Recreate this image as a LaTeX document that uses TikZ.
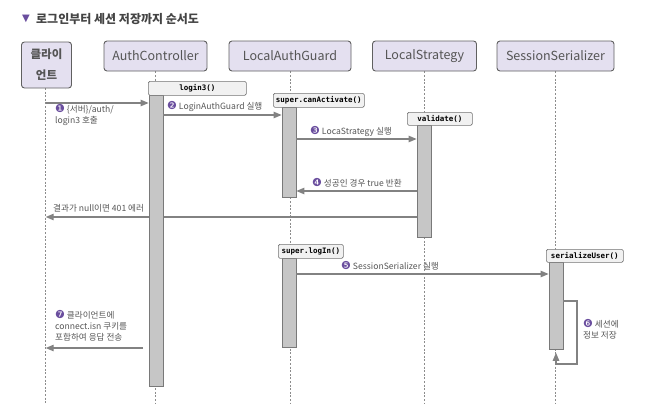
\documentclass[tikz,border=0pt]{standalone}
\usepackage{fontspec}
\setmainfont{Noto Sans CJK KR}
\newfontfamily\monofont{DejaVu Sans Mono}
\newfontfamily\symfont{DejaVu Sans}
\usepackage{xcolor}
\usetikzlibrary{arrows.meta,positioning,calc,backgrounds}

\definecolor{actorfill}{HTML}{E4E0F0}
\definecolor{linegray}{HTML}{828282}
\definecolor{textgray}{HTML}{555555}
\definecolor{barfill}{HTML}{C6C6C6}
\definecolor{tagfill}{HTML}{F1F1F1}
\definecolor{numpurple}{HTML}{6A4E9E}

\newcommand{\cnum}[1]{{\symfont\color{numpurple}\fontsize{11}{10}\selectfont#1}}

\begin{document}
\begin{tikzpicture}[x=1pt, y=-1pt,
    actor/.style={draw=gray!75!black, fill=actorfill, rounded corners=3pt, minimum height=30pt, inner sep=0pt, line width=0.9pt, text=textgray, font=\fontsize{12.5}{14}\selectfont},
    life/.style={draw=gray!90, line width=0.6pt, dash pattern=on 2pt off 1.6pt},
    bar/.style={draw=gray!95!black, fill=barfill, minimum width=14pt, inner sep=0pt, line width=0.8pt, anchor=north},
    tag/.style={draw=gray!90!black, fill=tagfill, rounded corners=1.5pt, minimum height=14pt, inner sep=0pt, anchor=north west, line width=0.7pt, font=\monofont\bfseries\fontsize{7.5}{8}\selectfont},
    msg/.style={-{Triangle[length=8pt,width=6.5pt]}, draw=linegray, line width=1.1pt},
    lbl/.style={text=textgray, inner sep=0pt, align=left, font=\fontsize{8.6}{11}\selectfont}
  ]
    \useasboundingbox (0,0) rectangle (653,407);

    % title
    \node[text=numpurple, inner sep=0pt, font=\symfont\fontsize{10}{10}\selectfont] (mark) at (26,19) {▼};
    \node[anchor=west, inner sep=0pt, text=textgray!80!black, font=\bfseries\fontsize{12}{14}\selectfont] (title) at (36,19) {로그인부터 세션 저장까지 순서도};

    % participants
    \node[actor, minimum width=50pt, minimum height=46pt, align=center, font=\bfseries\fontsize{11.5}{21}\selectfont] (cli) at (46.5,65) {클라이\\언트};
    \node[actor, minimum width=103pt] (auth) at (155.5,56) {AuthController};
    \node[actor, minimum width=122pt] (guard) at (290,56) {LocalAuthGuard};
    \node[actor, minimum width=104pt] (strat) at (424.5,56) {LocalStrategy};
    \node[actor, minimum width=117pt] (ser) at (555.5,56) {SessionSerializer};

    % activations
    \node[bar, minimum height=291pt] (acbar) at (156,95) {};
    \node[bar, minimum height=90pt] (gbar1) at (289,107) {};
    \node[bar, minimum height=112pt] (stbar) at (424,125) {};
    \node[bar, minimum height=89pt] (gbar2) at (289,258) {};
    \node[bar, minimum height=87pt] (srbar) at (556,262) {};

    \node[tag, minimum width=98pt] (tlogin) at (148,81) {login3()};
    \node[tag, minimum width=91pt] (tcan) at (273,93) {super.canActivate()};
    \node[tag, minimum width=65pt, minimum height=13pt] (tval) at (407,112) {validate()};
    \node[tag, minimum width=65pt] (tlog) at (278,244) {super.logIn()};
    \node[tag, minimum width=77pt, minimum height=13pt] (tser) at (546,249) {serializeUser()};

    % lifelines and the 401 return, under the bars
    \begin{pgfonlayer}{background}
      \draw[life] (45.7,88) -- (45.7,404);
      \draw[life] (auth.south) -- (auth.south |- 0,404);
      \draw[life] (guard.south) -- (guard.south |- 0,404);
      \draw[life] (strat.south) -- (strat.south |- 0,404);
      \draw[life] (ser.south) -- (ser.south |- 0,404);
      \draw[msg] (stbar.west |- 0,217) -- (45.7,217);
    \end{pgfonlayer}

    % messages
    \draw[msg] (45.7,103) -- (acbar.west |- 0,103);
    \draw[msg] (acbar.east |- 0,115) -- (gbar1.west |- 0,115);
    \draw[msg] (gbar1.east |- 0,139) -- (stbar.west |- 0,139);
    \draw[msg] (stbar.west |- 0,191) -- (gbar1.east |- 0,191);
    \draw[msg] (gbar2.east |- 0,274) -- (srbar.west |- 0,274);
    \coordinate (loop) at (577,364);
    \draw[msg, shorten >=3pt] (srbar.east |- 0,301) -| (loop) -| (srbar.south);
    \coordinate (resp) at (143,348);
    \draw[msg] (resp) -- (45.7,348);

    % labels
    \node[lbl, anchor=north west] (l1) at (55,104) {\cnum{❶} \{서버\}/auth/\\login3 호출};
    \node[lbl, anchor=west] (l2) at (167,107) {\cnum{❷} LoginAuthGuard 실행};
    \node[lbl, anchor=west] (l3) at (310,132) {\cnum{❸} LocaStrategy 실행};
    \node[lbl, anchor=west] (l4) at (312,183) {\cnum{❹} 성공인 경우 true 반환};
    \node[lbl, anchor=west] (l5) at (53,208) {결과가 null이면 401 에러};
    \node[lbl, anchor=west] (l6) at (341,266) {\cnum{❺} SessionSerializer 실행};
    \node[lbl, anchor=north west] (l7) at (583,319) {\cnum{❻} 세션에\\정보 저장};
    \node[lbl, anchor=north west] (l8) at (55,310) {\cnum{❼} 클라이언트에\\connect.isn 쿠키를\\포함하여 응답 전송};
\end{tikzpicture}
\end{document}
